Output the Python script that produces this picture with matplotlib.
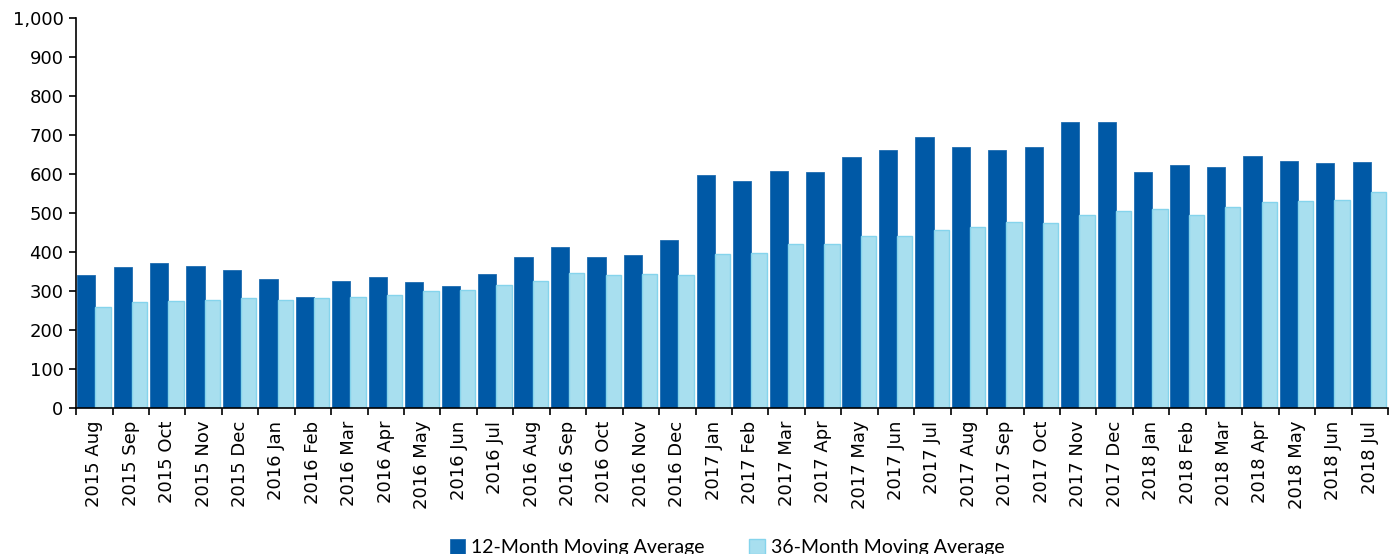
import numpy as np
import matplotlib
matplotlib.use("Agg")
import matplotlib.pyplot as plt
from matplotlib.ticker import FuncFormatter, MultipleLocator

months = ["2015 Aug", "2015 Sep", "2015 Oct", "2015 Nov", "2015 Dec",
          "2016 Jan", "2016 Feb", "2016 Mar", "2016 Apr", "2016 May",
          "2016 Jun", "2016 Jul", "2016 Aug", "2016 Sep", "2016 Oct",
          "2016 Nov", "2016 Dec", "2017 Jan", "2017 Feb", "2017 Mar",
          "2017 Apr", "2017 May", "2017 Jun", "2017 Jul", "2017 Aug",
          "2017 Sep", "2017 Oct", "2017 Nov", "2017 Dec", "2018 Jan",
          "2018 Feb", "2018 Mar", "2018 Apr", "2018 May", "2018 Jun",
          "2018 Jul"]

ma12 = [342, 362, 373, 364, 355, 332, 285, 325, 335, 323, 313, 344,
        386, 412, 386, 393, 432, 597, 583, 607, 604, 643, 662, 696,
        669, 661, 669, 733, 734, 605, 624, 618, 647, 633, 627, 630]

ma36 = [260, 272, 275, 278, 281, 278, 283, 285, 290, 301, 302, 316,
        325, 347, 340, 344, 342, 395, 397, 420, 421, 440, 442, 457,
        465, 478, 475, 496, 506, 511, 496, 516, 527, 531, 533, 555]

dark = '#0059a6'
light = '#a8dfef'
light_edge = '#85d4ec'

fig = plt.figure(figsize=(13.93, 5.54), dpi=100)
ax = fig.add_axes([0.0546, 0.2635, 0.9418, 0.704])

x = np.arange(len(months))
ax.bar(x - 0.47, ma12, width=0.5, align='edge', color=dark,
       edgecolor='#1f6cb0', linewidth=0.6, label='12-Month Moving Average')
ax.bar(x + 0.03, ma36, width=0.42, align='edge', color=light,
       edgecolor=light_edge, linewidth=1.0, label='36-Month Moving Average')

ax.set_xlim(-0.5, len(months) - 0.5)
ax.set_ylim(0, 1000)
ax.yaxis.set_major_locator(MultipleLocator(100))
ax.yaxis.set_major_formatter(FuncFormatter(lambda v, p: f'{int(v):,}'))

ax.set_xticks(x)
ax.set_xticklabels(months, rotation=90)
ax.set_xticks(np.arange(len(months) + 1) - 0.5, minor=True)
ax.tick_params(axis='x', which='major', length=0, pad=9, labelsize=13)
ax.tick_params(axis='x', which='minor', length=5, width=1.2)
ax.tick_params(axis='y', length=5, width=1.2, labelsize=13, pad=4)

for s in ['top', 'right']:
    ax.spines[s].set_visible(False)
for s in ['left', 'bottom']:
    ax.spines[s].set_linewidth(1.2)

fig.legend(loc='center', bbox_to_anchor=(0.522, 0.012), ncol=2, frameon=False,
           prop={'family': 'Lato', 'size': 14}, handlelength=0.8,
           handleheight=0.8, handletextpad=0.3, columnspacing=2.3)

fig.savefig('out.png', dpi=100)
